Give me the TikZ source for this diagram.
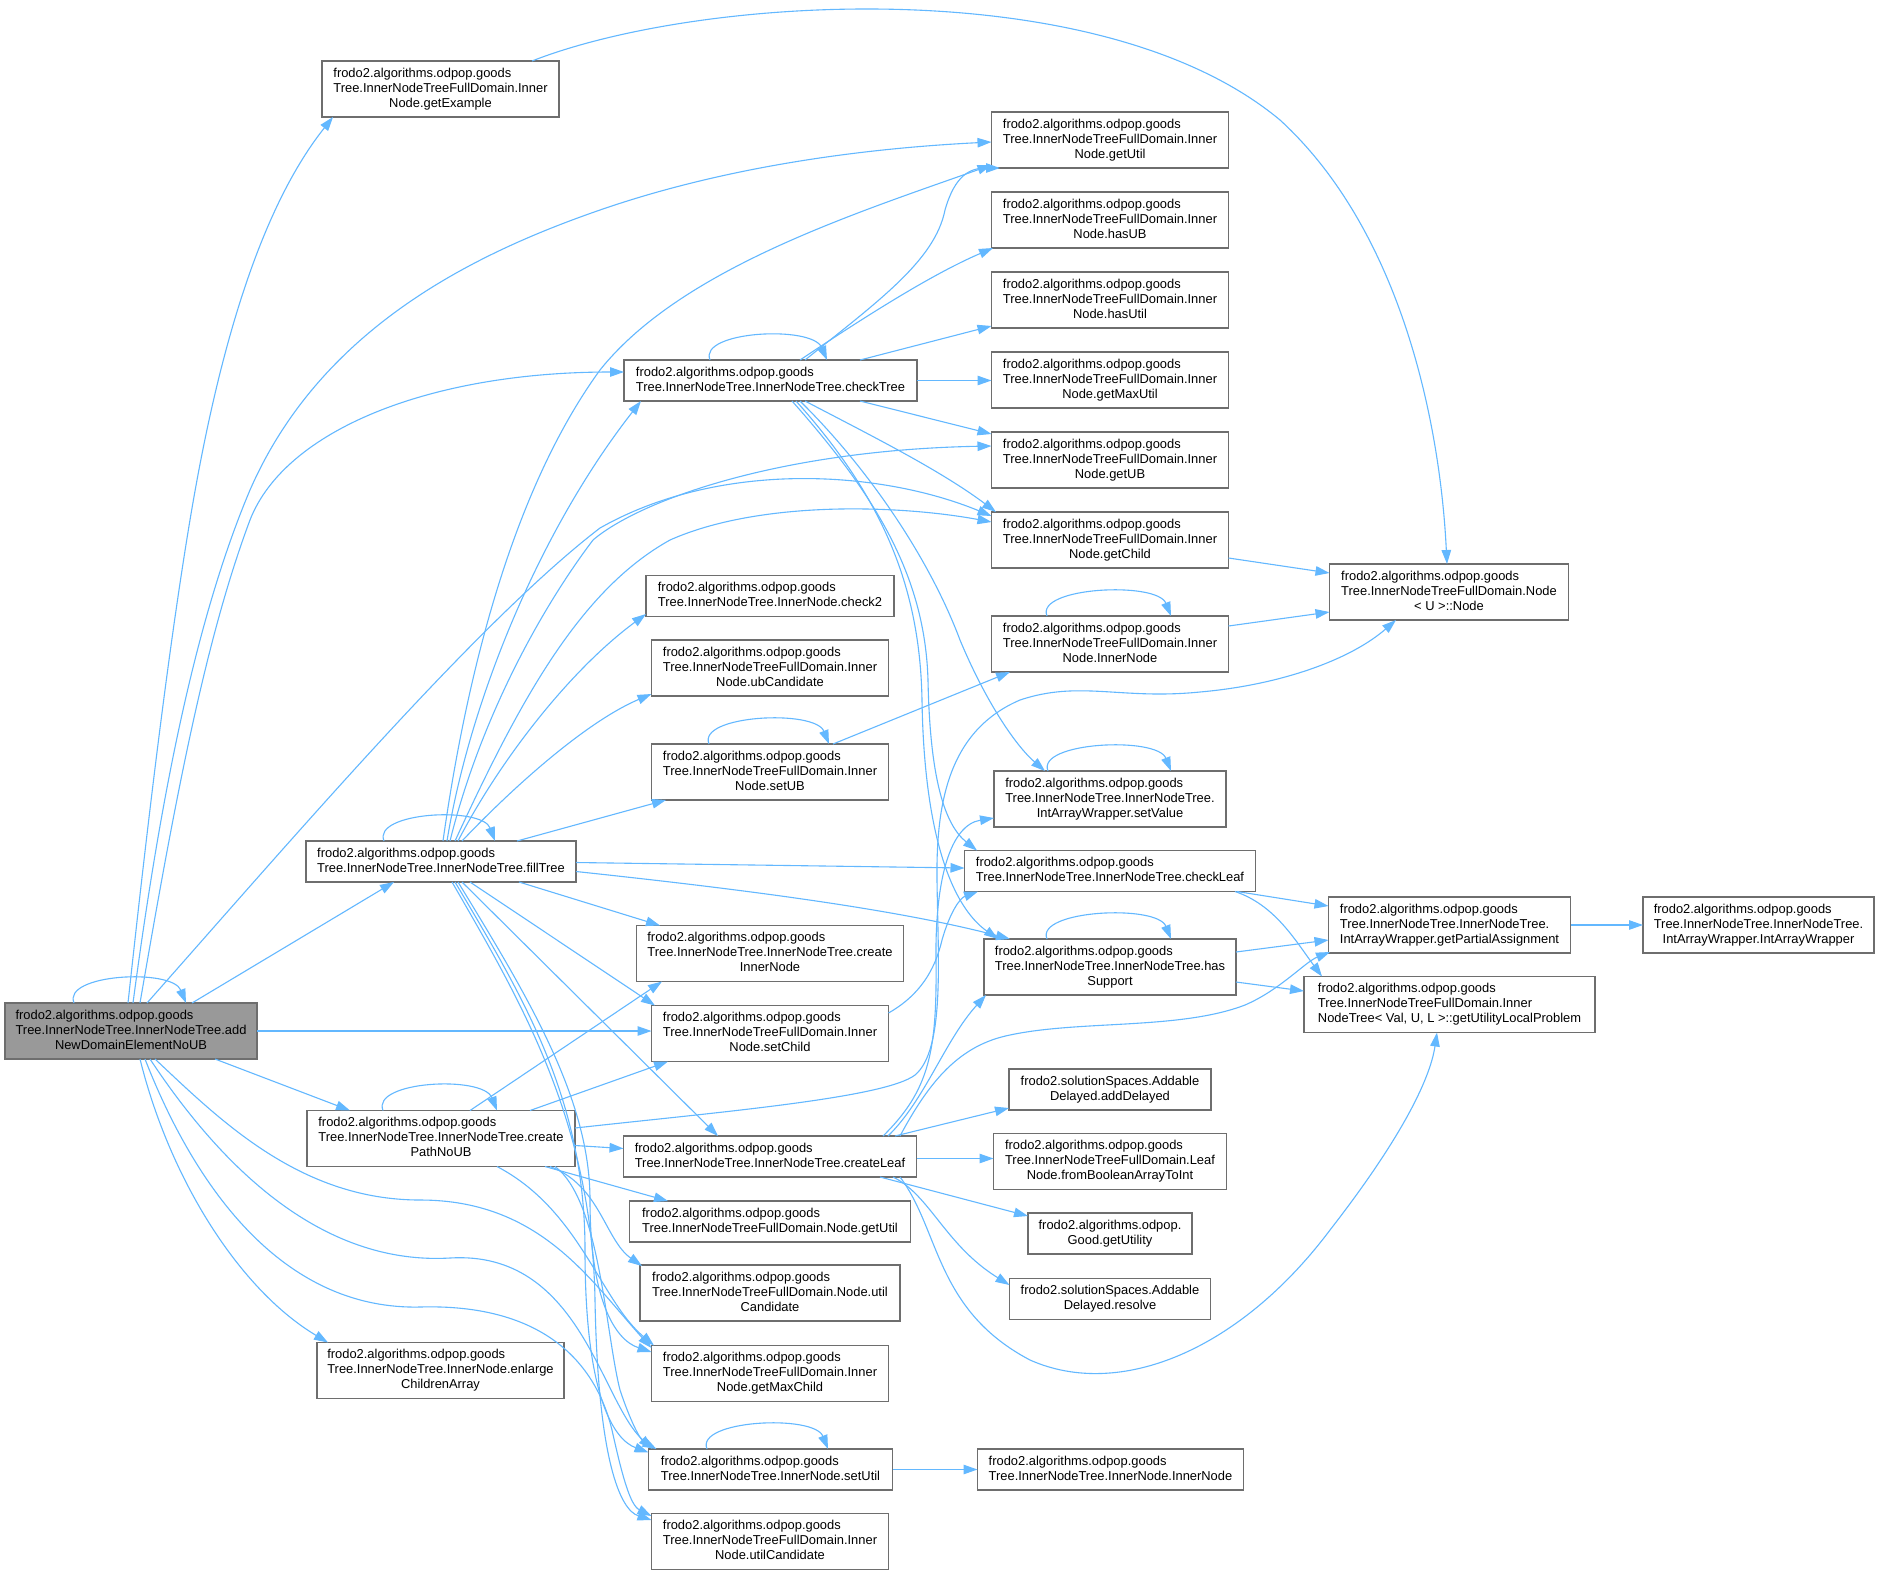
\documentclass[tikz,border=0pt]{standalone}
\usepackage{fontspec}
\setmainfont{Liberation Sans}
\usetikzlibrary{arrows.meta}
\definecolor{edgec}{HTML}{63B8FF}
\definecolor{boxc}{HTML}{6E6E6E}
\definecolor{rootc}{HTML}{999999}
\newcommand\nodefont{\fontsize{12.9}{15}\selectfont}
\newcommand\ml[2]{\begin{tabular}{@{}l@{}}#1\\\multicolumn{1}{@{}c@{}}{#2}\end{tabular}}
\begin{document}
\begin{tikzpicture}[x=1pt,y=-1pt,
  box/.style={draw=boxc,fill=white,line width=1.3pt,inner sep=0pt,font=\nodefont},
  edge/.style={draw=edgec,line width=1.1pt,-{Triangle[length=14pt,width=9.5pt]}}]
\useasboundingbox (0,0) rectangle (1880,1575);
\fill[white] (0,0) rectangle (1880,1575);

% ---------- nodes ----------
\node[box,fill=rootc,minimum width=252,minimum height=56] (addNew) at (131,1031) {\ml{frodo2.algorithms.odpop.goods\\Tree.InnerNodeTree.InnerNodeTree.add}{NewDomainElementNoUB}};
\node[box,minimum width=237,minimum height=56] (getExample) at (440.5,89) {\ml{frodo2.algorithms.odpop.goods\\Tree.InnerNodeTreeFullDomain.Inner}{Node.getExample}};
\node[box,minimum width=293,minimum height=41] (checkTree) at (770.5,380.5) {\ml{frodo2.algorithms.odpop.goods}{Tree.InnerNodeTree.InnerNodeTree.checkTree}};
\node[box,minimum width=270,minimum height=41] (fillTree) at (441,861.5) {\ml{frodo2.algorithms.odpop.goods}{Tree.InnerNodeTree.InnerNodeTree.fillTree}};
\node[box,minimum width=268,minimum height=56] (cpath) at (441,1138.5) {\ml{frodo2.algorithms.odpop.goods\\Tree.InnerNodeTree.InnerNodeTree.create}{PathNoUB}};
\node[box,minimum width=247,minimum height=56] (enlarge) at (440.5,1370.5) {\ml{frodo2.algorithms.odpop.goods\\Tree.InnerNodeTree.InnerNode.enlarge}{ChildrenArray}};
\node[box,minimum width=248,minimum height=41] (check2) at (770,596) {\ml{frodo2.algorithms.odpop.goods}{Tree.InnerNodeTree.InnerNode.check2}};
\node[box,minimum width=237,minimum height=56] (ubCand) at (770,668) {\ml{frodo2.algorithms.odpop.goods\\Tree.InnerNodeTreeFullDomain.Inner}{Node.ubCandidate}};
\node[box,minimum width=237,minimum height=56] (setUB) at (770,772) {\ml{frodo2.algorithms.odpop.goods\\Tree.InnerNodeTreeFullDomain.Inner}{Node.setUB}};
\node[box,minimum width=267,minimum height=56] (cInner) at (770,953.5) {\ml{frodo2.algorithms.odpop.goods\\Tree.InnerNodeTree.InnerNodeTree.create}{InnerNode}};
\node[box,minimum width=237,minimum height=56] (setChild) at (770,1033.5) {\ml{frodo2.algorithms.odpop.goods\\Tree.InnerNodeTreeFullDomain.Inner}{Node.setChild}};
\node[box,minimum width=293,minimum height=41] (cLeaf) at (770,1156.5) {\ml{frodo2.algorithms.odpop.goods}{Tree.InnerNodeTree.InnerNodeTree.createLeaf}};
\node[box,minimum width=281,minimum height=41] (nGetUtil) at (770,1221.5) {\ml{frodo2.algorithms.odpop.goods}{Tree.InnerNodeTreeFullDomain.Node.getUtil}};
\node[box,minimum width=260,minimum height=56] (nUtilCand) at (770,1293) {\ml{frodo2.algorithms.odpop.goods\\Tree.InnerNodeTreeFullDomain.Node.util}{Candidate}};
\node[box,minimum width=237,minimum height=56] (getMaxChild) at (770,1373.5) {\ml{frodo2.algorithms.odpop.goods\\Tree.InnerNodeTreeFullDomain.Inner}{Node.getMaxChild}};
\node[box,minimum width=244,minimum height=41] (setUtil) at (770.5,1469.5) {\ml{frodo2.algorithms.odpop.goods}{Tree.InnerNodeTree.InnerNode.setUtil}};
\node[box,minimum width=237,minimum height=56] (utilCand) at (770,1541.5) {\ml{frodo2.algorithms.odpop.goods\\Tree.InnerNodeTreeFullDomain.Inner}{Node.utilCandidate}};
\node[box,minimum width=237,minimum height=56] (getUtil) at (1110,140) {\ml{frodo2.algorithms.odpop.goods\\Tree.InnerNodeTreeFullDomain.Inner}{Node.getUtil}};
\node[box,minimum width=237,minimum height=56] (hasUB) at (1110,220) {\ml{frodo2.algorithms.odpop.goods\\Tree.InnerNodeTreeFullDomain.Inner}{Node.hasUB}};
\node[box,minimum width=237,minimum height=56] (hasUtil) at (1110,300) {\ml{frodo2.algorithms.odpop.goods\\Tree.InnerNodeTreeFullDomain.Inner}{Node.hasUtil}};
\node[box,minimum width=237,minimum height=56] (getMaxUtil) at (1110,380) {\ml{frodo2.algorithms.odpop.goods\\Tree.InnerNodeTreeFullDomain.Inner}{Node.getMaxUtil}};
\node[box,minimum width=237,minimum height=56] (getUB) at (1110,460) {\ml{frodo2.algorithms.odpop.goods\\Tree.InnerNodeTreeFullDomain.Inner}{Node.getUB}};
\node[box,minimum width=237,minimum height=56] (getChild) at (1110,540) {\ml{frodo2.algorithms.odpop.goods\\Tree.InnerNodeTreeFullDomain.Inner}{Node.getChild}};
\node[box,minimum width=237,minimum height=56] (innerFD) at (1110,644) {\ml{frodo2.algorithms.odpop.goods\\Tree.InnerNodeTreeFullDomain.Inner}{Node.InnerNode}};
\node[box,minimum width=232,minimum height=56] (setValue) at (1110,799) {\ml{frodo2.algorithms.odpop.goods\\Tree.InnerNodeTree.InnerNodeTree.}{IntArrayWrapper.setValue}};
\node[box,minimum width=291,minimum height=41] (checkLeaf) at (1110,871) {\ml{frodo2.algorithms.odpop.goods}{Tree.InnerNodeTree.InnerNodeTree.checkLeaf}};
\node[box,minimum width=252,minimum height=56] (hasSupport) at (1110,967) {\ml{frodo2.algorithms.odpop.goods\\Tree.InnerNodeTree.InnerNodeTree.has}{Support}};
\node[box,minimum width=202,minimum height=41] (addDelayed) at (1110,1089.5) {\ml{frodo2.solutionSpaces.Addable}{Delayed.addDelayed}};
\node[box,minimum width=233,minimum height=56] (fromBool) at (1110,1161.5) {\ml{frodo2.algorithms.odpop.goods\\Tree.InnerNodeTreeFullDomain.Leaf}{Node.fromBooleanArrayToInt}};
\node[box,minimum width=164,minimum height=41] (getUtility) at (1110,1233.5) {\ml{frodo2.algorithms.odpop.}{Good.getUtility}};
\node[box,minimum width=201,minimum height=41] (resolve) at (1110,1299) {\ml{frodo2.solutionSpaces.Addable}{Delayed.resolve}};
\node[box,minimum width=266,minimum height=41] (innerINT) at (1110.5,1469.5) {\ml{frodo2.algorithms.odpop.goods}{Tree.InnerNodeTree.InnerNode.InnerNode}};
\node[box,minimum width=239,minimum height=56] (nodeU) at (1449,592) {\ml{frodo2.algorithms.odpop.goods\\Tree.InnerNodeTreeFullDomain.Node}{< U >::Node}};
\node[box,minimum width=242,minimum height=56] (getPA) at (1449.5,925) {\ml{frodo2.algorithms.odpop.goods\\Tree.InnerNodeTree.InnerNodeTree.}{IntArrayWrapper.getPartialAssignment}};
\node[box,minimum width=231,minimum height=56] (intAW) at (1758.5,925) {\ml{frodo2.algorithms.odpop.goods\\Tree.InnerNodeTree.InnerNodeTree.}{IntArrayWrapper.IntArrayWrapper}};
\node[box,minimum width=291,minimum height=56] (getULP) at (1449.5,1004.5) {\ml{frodo2.algorithms.odpop.goods\\Tree.InnerNodeTreeFullDomain.Inner}{NodeTree< Val, U, L >::getUtilityLocalProblem}};

% ---------- self loops ----------
\draw[edge] ([shift={(-57,-28)}]addNew.center) .. controls (62,974) and (172,968) .. ([shift={(55,-28)}]addNew.center);
\draw[edge] ([shift={(-57,-20.5)}]fillTree.center) .. controls (372,812) and (482,806) .. ([shift={(54,-20.5)}]fillTree.center);
\draw[edge] ([shift={(-60.5,-20.5)}]checkTree.center) .. controls (698,331) and (812,325) .. ([shift={(56.5,-20.5)}]checkTree.center);
\draw[edge] ([shift={(-61,-28)}]setUB.center) .. controls (697,715) and (815,709) .. ([shift={(59,-28)}]setUB.center);
\draw[edge] ([shift={(-63,-28)}]innerFD.center) .. controls (1035,587) and (1157,581) .. ([shift={(61,-28)}]innerFD.center);
\draw[edge] ([shift={(-62,-28)}]setValue.center) .. controls (1036,742) and (1157,736) .. ([shift={(61,-28)}]setValue.center);
\draw[edge] ([shift={(-63,-28)}]hasSupport.center) .. controls (1035,910) and (1157,904) .. ([shift={(61,-28)}]hasSupport.center);
\draw[edge] ([shift={(-58,-28)}]cpath.center) .. controls (371,1081) and (483,1075) .. ([shift={(56,-28)}]cpath.center);
\draw[edge] ([shift={(-63.5,-20.5)}]setUtil.center) .. controls (695,1420) and (814,1414) .. ([shift={(57.5,-20.5)}]setUtil.center);

% ---------- from addNew ----------
\draw[edge] ([shift={(-3,-28)}]addNew.center) .. controls (150,800) and (170,640) .. (190,520) .. controls (215,370) and (255,215) .. ([shift={(-107.5,28)}]getExample.center);
\draw[edge] ([shift={(2,-28)}]addNew.center) .. controls (160,800) and (195,620) .. (250,490) .. controls (320,330) and (470,255) .. (600,210) .. controls (730,165) and (870,148) .. ([shift={(-118.5,2)}]getUtil.center);
\draw[edge] ([shift={(9,-28)}]addNew.center) .. controls (175,800) and (205,640) .. (250,520) .. controls (285,430) and (430,372) .. ([shift={(-146.5,-8.5)}]checkTree.center);
\draw[edge] ([shift={(16,-28)}]addNew.center) .. controls (300,830) and (480,620) .. (600,528) .. controls (720,460) and (880,470) .. ([shift={(-118.5,-24)}]getChild.center);
\draw[edge] ([shift={(61,-28)}]addNew.center) -- ([shift={(-47,20.5)}]fillTree.center);
\draw[edge] ([shift={(126,0)}]addNew.center) -- ([shift={(-118.5,-2.5)}]setChild.center);
\draw[edge] ([shift={(84,28)}]addNew.center) -- ([shift={(-91,-28)}]cpath.center);
\draw[edge] ([shift={(9,28)}]addNew.center) .. controls (170,1180) and (240,1290) .. ([shift={(-112.5,-28)}]enlarge.center);
\draw[edge] ([shift={(24,28)}]addNew.center) .. controls (220,1120) and (300,1200) .. (420,1200) .. controls (540,1200) and (590,1280) .. ([shift={(-118.5,-25.5)}]getMaxChild.center);
\draw[edge] ([shift={(19,28)}]addNew.center) .. controls (230,1180) and (330,1265) .. (450,1258) .. controls (580,1250) and (600,1400) .. ([shift={(-118,-20.5)}]setUtil.center);
\draw[edge] ([shift={(14,28)}]addNew.center) .. controls (200,1200) and (290,1310) .. (420,1307) .. controls (560,1303) and (600,1380) .. (612,1430) .. controls (622,1475) and (630,1505) .. ([shift={(-118.5,-25.5)}]utilCand.center);

% ---------- from fillTree ----------
\draw[edge] ([shift={(6,-20.5)}]fillTree.center) .. controls (470,700) and (540,530) .. ([shift={(-129.5,20.5)}]checkTree.center);
\draw[edge] ([shift={(2,-20.5)}]fillTree.center) .. controls (470,650) and (520,480) .. (600,370) .. controls (680,270) and (850,215) .. ([shift={(-118.5,25)}]getUtil.center);
\draw[edge] ([shift={(9,-20.5)}]fillTree.center) .. controls (480,720) and (540,610) .. (593,540) .. controls (640,500) and (780,450) .. ([shift={(-118.5,-14)}]getUB.center);
\draw[edge] ([shift={(14,-20.5)}]fillTree.center) .. controls (520,700) and (580,590) .. (670,540) .. controls (760,500) and (900,505) .. ([shift={(-118.5,-18)}]getChild.center);
\draw[edge] ([shift={(17,-20.5)}]fillTree.center) .. controls (500,760) and (570,670) .. ([shift={(-124,18)}]check2.center);
\draw[edge] ([shift={(21,-20.5)}]fillTree.center) .. controls (520,780) and (590,720) .. ([shift={(-118.5,26)}]ubCand.center);
\draw[edge] ([shift={(76,-20.5)}]fillTree.center) -- ([shift={(-104,28)}]setUB.center);
\draw[edge] ([shift={(135,1)}]fillTree.center) -- ([shift={(-145.5,-3)}]checkLeaf.center);
\draw[edge] ([shift={(135,10)}]fillTree.center) .. controls (750,890) and (900,910) .. ([shift={(-100,-28)}]hasSupport.center);
\draw[edge] ([shift={(78,20.5)}]fillTree.center) -- ([shift={(-110,-28)}]cInner.center);
\draw[edge] ([shift={(29,20.5)}]fillTree.center) -- ([shift={(-115,-28)}]setChild.center);
\draw[edge] ([shift={(21,20.5)}]fillTree.center) -- ([shift={(-52,-20.5)}]cLeaf.center);
\draw[edge] ([shift={(17,20.5)}]fillTree.center) .. controls (530,1000) and (590,1100) .. (590,1200) .. controls (590,1300) and (615,1340) .. ([shift={(-118.5,-21.5)}]getMaxChild.center);
\draw[edge] ([shift={(14,20.5)}]fillTree.center) .. controls (525,1000) and (585,1100) .. (585,1250) .. controls (585,1400) and (615,1440) .. ([shift={(-122,-17)}]setUtil.center);
\draw[edge] ([shift={(11,20.5)}]fillTree.center) .. controls (520,1000) and (592,1120) .. (595,1300) .. controls (598,1460) and (620,1510) .. ([shift={(-118.5,-21.5)}]utilCand.center);

% ---------- from checkTree ----------
\draw[edge] ([shift={(34.5,-20.5)}]checkTree.center) .. controls (880,300) and (935,260) .. (945,210) .. controls (955,175) and (970,168) .. ([shift={(-110,28)}]getUtil.center);
\draw[edge] ([shift={(29.5,-20.5)}]checkTree.center) .. controls (860,320) and (930,275) .. ([shift={(-117,28)}]hasUB.center);
\draw[edge] ([shift={(89.5,-20.5)}]checkTree.center) -- ([shift={(-118.5,26)}]hasUtil.center);
\draw[edge] ([shift={(146.5,0)}]checkTree.center) -- ([shift={(-118.5,0.5)}]getMaxUtil.center);
\draw[edge] ([shift={(89.5,20.5)}]checkTree.center) -- ([shift={(-118.5,-26)}]getUB.center);
\draw[edge] ([shift={(34.5,20.5)}]checkTree.center) .. controls (870,435) and (940,470) .. ([shift={(-114,-28)}]getChild.center);
\draw[edge] ([shift={(21.5,20.5)}]checkTree.center) .. controls (880,500) and (925,580) .. (928,680) .. controls (930,780) and (945,825) .. ([shift={(-133,-20.5)}]checkLeaf.center);
\draw[edge] ([shift={(25.5,20.5)}]checkTree.center) .. controls (885,500) and (920,590) .. (922,700) .. controls (924,830) and (950,905) .. ([shift={(-112,-28)}]hasSupport.center);
\draw[edge] ([shift={(29.5,20.5)}]checkTree.center) .. controls (870,470) and (930,560) .. (960,640) .. controls (985,700) and (1015,745) .. ([shift={(-65,-28)}]setValue.center);

% ---------- from createPathNoUB ----------
\draw[edge] ([shift={(29,-28)}]cpath.center) -- ([shift={(-108,28)}]cInner.center);
\draw[edge] ([shift={(89,-28)}]cpath.center) -- ([shift={(-102,28)}]setChild.center);
\draw[edge] ([shift={(134,-10.5)}]cpath.center) .. controls (720,1112) and (885,1098) .. (915,1075) .. controls (945,1050) and (938,960) .. (937,880) .. controls (936,800) and (950,730) .. (1020,700) .. controls (1080,680) and (1120,700) .. (1200,692) .. controls (1280,685) and (1350,660) .. ([shift={(-53,28)}]nodeU.center);
\draw[edge] ([shift={(134,7)}]cpath.center) -- ([shift={(-146.5,-8)}]cLeaf.center);
\draw[edge] ([shift={(104,28)}]cpath.center) -- ([shift={(-102,-20.5)}]nGetUtil.center);
\draw[edge] ([shift={(109,28)}]cpath.center) .. controls (600,1185) and (605,1240) .. ([shift={(-128,-27)}]nUtilCand.center);
\draw[edge] ([shift={(56,28)}]cpath.center) .. controls (580,1210) and (600,1300) .. ([shift={(-116,-28)}]getMaxChild.center);
\draw[edge] ([shift={(114,28)}]cpath.center) .. controls (600,1200) and (605,1330) .. (620,1390) .. controls (630,1420) and (640,1440) .. ([shift={(-114,-20.5)}]setUtil.center);

% ---------- from createLeaf ----------
\draw[edge] ([shift={(125,-20.5)}]cLeaf.center) -- ([shift={(-101,18.5)}]addDelayed.center);
\draw[edge] ([shift={(146.5,2)}]cLeaf.center) -- ([shift={(-116.5,-3)}]fromBool.center);
\draw[edge] ([shift={(110,20.5)}]cLeaf.center) -- ([shift={(-82,-17.5)}]getUtility.center);
\draw[edge] ([shift={(123,20.5)}]cLeaf.center) .. controls (930,1195) and (945,1245) .. ([shift={(-100.5,-14)}]resolve.center);
\draw[edge] ([shift={(130,20.5)}]cLeaf.center) .. controls (940,1230) and (935,1310) .. (1030,1360) .. controls (1120,1400) and (1240,1350) .. (1330,1230) .. controls (1400,1140) and (1430,1080) .. ([shift={(-12.5,28)}]getULP.center);
\draw[edge] ([shift={(118,-20.5)}]cLeaf.center) .. controls (925,1100) and (945,1040) .. ([shift={(-124,28)}]hasSupport.center);
\draw[edge] ([shift={(130,-20.5)}]cLeaf.center) .. controls (930,1080) and (960,1045) .. (1010,1035) .. controls (1080,1020) and (1180,1030) .. (1245,1005) .. controls (1280,990) and (1305,962) .. ([shift={(-119.5,27)}]getPA.center);
\draw[edge] ([shift={(113,-20.5)}]cLeaf.center) .. controls (930,1090) and (937,1050) .. (936,960) .. controls (935,880) and (950,825) .. ([shift={(-116,19)}]setValue.center);

% ---------- others ----------
\draw[edge] ([shift={(118.5,-20.5)}]setChild.center) .. controls (920,995) and (935,970) .. (942,940) .. controls (950,912) and (960,898) .. ([shift={(-132,20.5)}]checkLeaf.center);
\draw[edge] ([shift={(127,20.5)}]checkLeaf.center) -- ([shift={(-121,-19)}]getPA.center);
\draw[edge] ([shift={(125,20.5)}]checkLeaf.center) .. controls (1275,905) and (1295,940) .. ([shift={(-127.5,-28)}]getULP.center);
\draw[edge] ([shift={(126,-15)}]hasSupport.center) -- ([shift={(-121,15)}]getPA.center);
\draw[edge] ([shift={(126,15)}]hasSupport.center) -- ([shift={(-145.5,-13.5)}]getULP.center);
\draw[edge] ([shift={(121,0)}]getPA.center) -- ([shift={(-115.5,0)}]intAW.center);
\draw[edge] ([shift={(118.5,18)}]getChild.center) -- ([shift={(-119.5,-19)}]nodeU.center);
\draw[edge] ([shift={(118.5,-18)}]innerFD.center) -- ([shift={(-119.5,20)}]nodeU.center);
\draw[edge] ([shift={(63,-28)}]setUB.center) -- ([shift={(-100,28)}]innerFD.center);
\draw[edge] ([shift={(91.5,-28)}]getExample.center) .. controls (700,-5) and (1100,-30) .. (1280,120) .. controls (1400,230) and (1440,420) .. ([shift={(-2,-28)}]nodeU.center);
\draw[edge] ([shift={(122,0)}]setUtil.center) -- ([shift={(-133,0)}]innerINT.center);
\end{tikzpicture}
\end{document}
